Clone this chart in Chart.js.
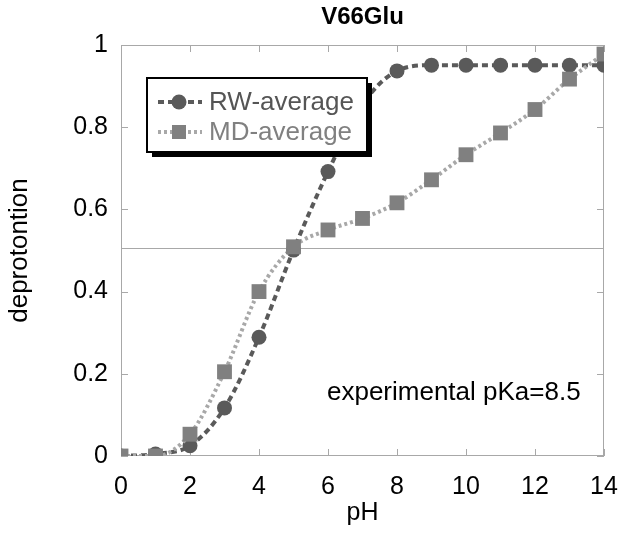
<!DOCTYPE html>
<html>
<head>
<meta charset="utf-8">
<script src="https://cdn.jsdelivr.net/npm/chart.js@4"></script>
<style>
  body { margin: 0; background: #fff; }
  canvas { display: block; }
</style>
</head>
<body>
<canvas id="chart" width="624" height="533"></canvas>
<script>
// pH values and deprotonation fractions
const phValues = [0, 1, 2, 3, 4, 5, 6, 7, 8, 9, 10, 11, 12, 13, 14];
const rwAverage = [0, 0.005, 0.025, 0.117, 0.289, 0.501, 0.692, 0.855, 0.937, 0.951, 0.951, 0.951, 0.951, 0.951, 0.951];
const mdAverage = [0, 0, 0.053, 0.205, 0.400, 0.509, 0.550, 0.578, 0.616, 0.672, 0.733, 0.786, 0.843, 0.917, 0.978];
const xTickValues = [0, 2, 4, 6, 8, 10, 12, 14];
const yTickValues = [0, 0.2, 0.4, 0.6, 0.8, 1];
const yTickLabels = ['0', '0.2', '0.4', '0.6', '0.8', '1'];
const halfLine = 0.505;
const noteText = 'experimental pKa=8.5';
const notePos = [5.97, 0.153];

const FONT = "'Liberation Sans', Arial, sans-serif";

function toPoints(ys) {
    return phValues.map((x, i) => ({x: x, y: ys[i]}));
}

// frame, inward ticks, 0.5 line, note text and the boxed legend
const decorations = {
    id: 'decorations',
    beforeDatasetsDraw(chart) {
        const ctx = chart.ctx;
        const a = chart.chartArea;
        const xs = chart.scales.x, ys = chart.scales.y;
        ctx.save();
        ctx.strokeStyle = '#a8a8a8';
        ctx.lineWidth = 1;
        ctx.strokeRect(a.left + 0.5, a.top + 0.5, a.right - a.left - 1, a.bottom - a.top - 1);
        ctx.beginPath();
        xTickValues.forEach(v => {
            const px = Math.round(xs.getPixelForValue(v)) + 0.5;
            ctx.moveTo(px, a.bottom); ctx.lineTo(px, a.bottom - 7);
            ctx.moveTo(px, a.top); ctx.lineTo(px, a.top + 7);
        });
        yTickValues.forEach(v => {
            const py = Math.round(ys.getPixelForValue(v)) + 0.5;
            ctx.moveTo(a.left, py); ctx.lineTo(a.left + 7, py);
            ctx.moveTo(a.right, py); ctx.lineTo(a.right - 7, py);
        });
        const hy = Math.round(ys.getPixelForValue(halfLine)) + 0.5;
        ctx.moveTo(a.left, hy); ctx.lineTo(a.right, hy);
        ctx.stroke();

        ctx.fillStyle = '#000';
        ctx.font = '26px ' + FONT;
        ctx.textAlign = 'left';
        ctx.textBaseline = 'middle';
        ctx.fillText(noteText, xs.getPixelForValue(notePos[0]), ys.getPixelForValue(notePos[1]));
        ctx.restore();
    },
    afterDraw(chart) {
        const ctx = chart.ctx;
        const a = chart.chartArea;
        const bx = a.left + 26, by = a.top + 33, bw = 220, bh = 74;
        ctx.save();
        ctx.fillStyle = '#000';
        ctx.fillRect(bx + 5, by + 5, bw, bh);
        ctx.fillStyle = '#fff';
        ctx.fillRect(bx, by, bw, bh);
        ctx.strokeStyle = '#000';
        ctx.lineWidth = 2;
        ctx.strokeRect(bx, by, bw, bh);
        chart.data.datasets.forEach((ds, i) => {
            const ly = by + 24 + i * 30;
            ctx.strokeStyle = ds.borderColor;
            ctx.lineWidth = ds.borderWidth;
            ctx.setLineDash(ds.borderDash);
            ctx.beginPath();
            ctx.moveTo(bx + 11, ly);
            ctx.lineTo(bx + 55, ly);
            ctx.stroke();
            ctx.setLineDash([]);
            ctx.fillStyle = ds.pointBackgroundColor;
            if (ds.pointStyle === 'rect') {
                ctx.fillRect(bx + 25, ly - 7, 14, 14);
            } else {
                ctx.beginPath();
                ctx.arc(bx + 32, ly, 7.5, 0, Math.PI * 2);
                ctx.fill();
            }
            ctx.fillStyle = ds.labelColor;
            ctx.font = '26px ' + FONT;
            ctx.textAlign = 'left';
            ctx.textBaseline = 'middle';
            ctx.fillText(ds.label, bx + 62, ly + 1);
        });
        ctx.restore();
    }
};

new Chart(document.getElementById('chart').getContext('2d'), {
    type: 'line',
    data: {
        datasets: [{
            label: 'RW-average',
            data: toPoints(rwAverage),
            borderColor: '#5a5a5a',
            borderWidth: 4,
            borderDash: [6, 4],
            pointStyle: 'circle',
            pointRadius: 7.5,
            pointBackgroundColor: '#5a5a5a',
            pointBorderWidth: 0,
            labelColor: '#555555',
            cubicInterpolationMode: 'monotone',
            order: 2
        }, {
            label: 'MD-average',
            data: toPoints(mdAverage),
            borderColor: '#a8a8a8',
            borderWidth: 4,
            borderDash: [3, 3],
            pointStyle: 'rect',
            pointRadius: 10.5,
            pointBackgroundColor: '#808080',
            pointBorderWidth: 0,
            labelColor: '#808080',
            cubicInterpolationMode: 'monotone',
            order: 1
        }]
    },
    options: {
        responsive: false,
        animation: false,
        events: [],
        layout: {padding: {left: 0, right: 20, top: 0, bottom: 0}},
        plugins: {
            legend: {display: false},
            tooltip: {enabled: false},
            title: {
                display: true,
                text: 'V66Glu',
                fullSize: false,
                color: '#000',
                font: {family: FONT, size: 24, weight: 'bold'},
                padding: {top: 3, bottom: 13.2}
            }
        },
        scales: {
            x: {
                type: 'linear',
                min: 0,
                max: 14,
                afterBuildTicks: s => { s.ticks = xTickValues.map(v => ({value: v})); },
                afterFit: s => { s.height = 77; s.paddingLeft = 0; s.paddingRight = 0; },
                grid: {display: false, drawTicks: false},
                border: {display: false},
                ticks: {color: '#000', padding: 16, maxRotation: 0, font: {family: FONT, size: 25}},
                title: {
                    display: true,
                    text: 'pH',
                    color: '#000',
                    font: {family: FONT, size: 25},
                    padding: {top: 0, bottom: 5}
                }
            },
            y: {
                type: 'linear',
                min: 0,
                max: 1,
                afterBuildTicks: s => { s.ticks = yTickValues.map(v => ({value: v})); },
                afterFit: s => { s.width = 121; s.paddingTop = 0; s.paddingBottom = 0; },
                grid: {display: false, drawTicks: false},
                border: {display: false},
                ticks: {
                    color: '#000',
                    padding: 13,
                    font: {family: FONT, size: 25},
                    callback: (v, i) => yTickLabels[i]
                },
                title: {
                    display: true,
                    text: 'deprotontion',
                    color: '#000',
                    font: {family: FONT, size: 26},
                    padding: {top: 4, bottom: 0}
                }
            }
        }
    },
    plugins: [decorations]
});
</script>
</body>
</html>
